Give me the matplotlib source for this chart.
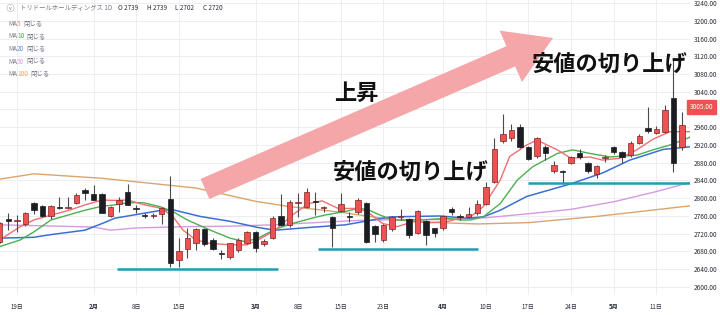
import numpy as np
import matplotlib.pyplot as plt
from matplotlib.patches import FancyArrow, Circle
from matplotlib.transforms import blended_transform_factory

plt.rcParams['font.family'] = ['Noto Sans CJK JP', 'DejaVu Sans']

# daily candles, index 0 = 1/19
day_idx = np.arange(-2, 80)
opens = [2702, 2753, 2748, 2743, 2790, 2782, 2760, 2781, 2778, 2789,
         2818, 2809, 2809, 2760, 2786, 2815, 2776, 2761, 2760, 2764,
         2798, 2661, 2686, 2700, 2730, 2706, 2677, 2668, 2683, 2698,
         2724, 2697, 2710, 2760, 2740, 2790, 2781, 2793, 2778, 2757,
         2772, 2758, 2770, 2790, 2737, 2705, 2730, 2757, 2753, 2721,
         2749, 2732, 2732, 2775, 2759, 2758, 2766, 2787, 2837, 2929,
         2935, 2961, 2916, 2895, 2916, 2862, 2861, 2880, 2901, 2879,
         2855, 2891, 2915, 2905, 2897, 2925, 2959, 2948, 2950, 3025,
         2915, 2995]
highs = [2747, 2766, 2762, 2768, 2792, 2784, 2784, 2803, 2803, 2812,
         2824, 2830, 2812, 2783, 2803, 2832, 2784, 2766, 2766, 2781,
         2850, 2710, 2732, 2732, 2733, 2710, 2684, 2700, 2710, 2727,
         2726, 2708, 2760, 2810, 2795, 2812, 2822, 2813, 2782, 2760,
         2811, 2770, 2801, 2792, 2740, 2742, 2761, 2775, 2756, 2774,
         2751, 2734, 2763, 2780, 2764, 2781, 2795, 2837, 2935, 2989,
         2968, 2967, 2918, 2938, 2920, 2884, 2864, 2896, 2912, 2881,
         2876, 2898, 2917, 2907, 2928, 2944, 3005, 2963, 3011, 3115,
         2995, 3010]
lows = [2699, 2728, 2724, 2738, 2765, 2758, 2754, 2776, 2775, 2787,
        2796, 2795, 2766, 2757, 2770, 2784, 2766, 2755, 2756, 2742,
        2646, 2646, 2665, 2683, 2693, 2684, 2664, 2663, 2678, 2696,
        2679, 2692, 2708, 2738, 2736, 2758, 2777, 2762, 2770, 2691,
        2768, 2747, 2765, 2700, 2702, 2702, 2726, 2750, 2710, 2719,
        2695, 2713, 2728, 2763, 2752, 2755, 2762, 2785, 2835, 2925,
        2930, 2914, 2886, 2890, 2886, 2856, 2835, 2877, 2888, 2857,
        2845, 2882, 2900, 2880, 2893, 2922, 2948, 2945, 2947, 2860,
        2908, 2965]
closes = [2745, 2749, 2752, 2767, 2773, 2761, 2782, 2778, 2780, 2807,
          2811, 2796, 2767, 2781, 2796, 2785, 2775, 2760, 2763, 2779,
          2653, 2682, 2710, 2730, 2697, 2685, 2675, 2698, 2706, 2724,
          2687, 2704, 2755, 2740, 2792, 2792, 2813, 2791, 2780, 2732,
          2787, 2757, 2796, 2702, 2719, 2740, 2757, 2759, 2717, 2771,
          2717, 2721, 2760, 2768, 2757, 2764, 2787, 2826, 2910, 2944,
          2953, 2916, 2888, 2935, 2901, 2875, 2860, 2893, 2892, 2862,
          2873, 2893, 2905, 2892, 2925, 2940, 2951, 2957, 2999, 2880,
          2965, 3005]

# moving averages (index, price)
ma5_x = [-2, 0.4, 2, 4, 6, 8, 10, 11.5, 13, 15, 17, 18.3, 19.5, 21, 22.7, 25, 27,
         28.3, 30.3, 32.3, 34.2, 35.8, 37.7, 39.9, 41.1, 42.9, 44.6, 46.5, 48.5,
         50.4, 52, 53.2, 54.7, 56.7, 57.8, 59.8, 61, 63.4, 65, 67.2, 68.7, 70.7,
         72.7, 74.6, 76.6, 79]
ma5_y = [2706, 2736, 2751, 2762, 2772, 2785, 2796, 2795, 2796, 2785, 2777, 2759, 2728,
         2706, 2698, 2695, 2695, 2706, 2728, 2762, 2788, 2794, 2777, 2777, 2770, 2743,
         2736, 2747, 2745, 2747, 2755, 2758, 2781, 2841, 2894, 2920, 2931, 2909, 2890,
         2893, 2886, 2890, 2909, 2933, 2950, 2950]
ma10_x = [-2, 0.4, 2, 4, 6, 8, 10, 11.5, 13, 14.8, 16.8, 18.3, 20, 22.7, 25, 26.8,
          28.3, 30.3, 32.3, 34.6, 36.1, 38.5, 40, 41.1, 42.6, 44.1, 47.6, 50.4, 52,
          53.2, 54.7, 56.7, 58.7, 60.5, 63.4, 65.2, 67.2, 69.6, 72.7, 74.6, 76.6, 79]
ma10_y = [2691, 2706, 2724, 2751, 2762, 2773, 2782, 2785, 2790, 2790, 2781, 2770, 2751,
          2728, 2710, 2702, 2710, 2730, 2743, 2755, 2762, 2770, 2777, 2775, 2762, 2751,
          2751, 2755, 2751, 2751, 2758, 2788, 2841, 2871, 2901, 2909, 2901, 2893, 2897,
          2909, 2920, 2938]
ma20_x = [-2, 2, 4, 8, 10, 11.5, 17, 18.3, 21.5, 25, 28.3, 30.3, 34.2, 38.5, 43.8,
          49.6, 52.8, 54.7, 56.7, 59.8, 64.9, 68.7, 71.9, 75.8, 79]
ma20_y = [2710, 2712, 2718, 2728, 2743, 2755, 2773, 2774, 2759, 2748, 2734, 2728, 2734,
          2740, 2758, 2760, 2755, 2758, 2773, 2804, 2832, 2857, 2886, 2910, 2916]
ma50_x = [-2, 5, 9, 11, 14, 20, 25, 30, 35, 40, 45, 50, 55, 60, 65, 70, 75, 79]
ma50_y = [2740, 2737, 2735, 2728, 2733, 2736, 2737, 2740, 2745, 2750, 2752, 2752, 2756,
          2765, 2775, 2792, 2815, 2836]
ma100_x = [-2, 2, 10, 14, 21, 25, 28, 32, 36, 38.5, 41, 44, 48, 54, 60, 68, 74, 79]
ma100_y = [2843, 2855, 2845, 2837, 2823, 2806, 2793, 2781, 2773, 2767, 2760, 2752, 2746,
           2742, 2745, 2759, 2772, 2783]

# horizontal support lines (price, from index, to index)
support_price = [2640, 2685, 2835]
support_from = [11.75, 35.3, 60.0]
support_to = [30.6, 54.1, 82.0]

tick_pos = [0, 9, 14, 19, 28, 33, 38, 43, 50, 55, 60, 65, 70, 75]
tick_lbl = ['19日', '2月', '8日', '15日', '3月', '8日', '15日', '23日', '4月', '10日',
            '17日', '24日', '5月', '11日']
price_ticks = np.arange(2600, 3241, 40)
last_price = 3005

UP = '#ec5252'
DOWN = '#1c1d22'
WICK = '#4a4a4a'

fig = plt.figure(figsize=(7.2, 3.15), dpi=100)
ax = fig.add_axes([0, 20 / 315, 690 / 720, 295 / 315])
ax.set_xlim(-1.97, 78.95)
ax.set_ylim(2581.9, 3246.8)

o = np.array(opens)
c = np.array(closes)
up = c >= o
body_lo = np.minimum(o, c)
body_h = np.maximum(np.abs(c - o), 2.5)
ax.vlines(day_idx, lows, highs, color=WICK, lw=0.8, zorder=3)
ax.bar(day_idx[up], body_h[up], bottom=body_lo[up], width=0.64,
       color=UP, edgecolor='#7d2424', linewidth=0.5, zorder=4)
ax.bar(day_idx[~up], body_h[~up], bottom=body_lo[~up], width=0.64,
       color=DOWN, edgecolor=DOWN, linewidth=0.5, zorder=4)

ax.plot(ma100_x, ma100_y, color='#dca46c', lw=1.0, zorder=2)
ax.plot(ma50_x, ma50_y, color='#d49be0', lw=1.0, zorder=2)
ax.plot(ma20_x, ma20_y, color='#3b6fd6', lw=1.1, zorder=2)
ax.plot(ma10_x, ma10_y, color='#4caf50', lw=1.0, zorder=2)
ax.plot(ma5_x, ma5_y, color='#ee7070', lw=1.0, zorder=2)

ax.hlines(support_price, support_from, support_to, color='#1e9db3', lw=1.8, zorder=5)

ax.yaxis.tick_right()
# the 3000 label sits under the last-price tag, so it is left blank
ax.set_yticks(price_ticks, ['' if abs(v - last_price) < 20 else f'{v:.2f}' for v in price_ticks])
ax.set_xticks(tick_pos, tick_lbl)
ax.tick_params(axis='y', length=0, pad=3, labelsize=4.7, labelcolor='#2a2e39')
ax.tick_params(axis='x', length=0, pad=6, labelsize=4.4, labelcolor='#2a2e39')
for t in ax.get_xticklabels():
    if t.get_text().endswith('月'):
        t.set_fontweight('bold')
for s in ax.spines.values():
    s.set_visible(False)
ax.grid(True, color='#eceef2', lw=0.7)
ax.set_axisbelow(True)

tr = blended_transform_factory(ax.transAxes, ax.transData)
ax.text(1.0, last_price, f'{last_price:.2f}', transform=tr, color='white', fontsize=4.7,
        va='center', ha='left', clip_on=False, zorder=10,
        bbox=dict(boxstyle='square,pad=0.45', fc=UP, ec=UP))

# overlay in pixel coordinates for drawings and legend
ov = fig.add_axes([0, 0, 1, 1])
ov.set_xlim(0, 720)
ov.set_ylim(315, 0)
ov.axis('off')

ov.add_patch(FancyArrow(205, 189, 348, -151, width=22, head_width=56, head_length=46,
                        length_includes_head=True, color='#f4a6a8', lw=0))

ov.text(356, 93, '上昇', fontsize=16, fontweight='bold', ha='center', va='center', color='#111111')
ov.text(411, 172, '安値の切り上げ', fontsize=16, fontweight='bold', ha='center', va='center', color='#111111')
ov.text(610, 64, '安値の切り上げ', fontsize=16, fontweight='bold', ha='center', va='center', color='#111111')

gray = '#787b86'
ov.add_patch(Circle((10.5, 8), 3.6, fc='white', ec='#c8cad0', lw=0.6))
ov.text(10.5, 8.3, 'v', fontsize=3.8, ha='center', va='center', color=gray)
ov.text(20, 8, 'トリドールホールディングス 1D', fontsize=4.6, va='center', color=gray)
for xx, s in zip([118, 147, 175, 203], ['O 2739', 'H 2739', 'L 2702', 'C 2720']):
    ov.text(xx, 8, s, fontsize=4.6, va='center', color='#2a2e39')

ma_names = ['5', '10', '20', '50', '100']
ma_cols = ['#f08a7a', '#4caf50', '#5b8def', '#e0a2e8', '#f0a868']
for k, (nm, col) in enumerate(zip(ma_names, ma_cols)):
    yy = 24 + k * 12.5
    ov.text(8, yy, 'MA', fontsize=4.6, va='center', color=gray)
    ov.text(17, yy, nm, fontsize=4.6, va='center', color=col)
    ov.text(20 + 3.3 * len(nm), yy, '閉じる', fontsize=4.6, va='center', color=gray)

fig.savefig('out.png', dpi=100)
